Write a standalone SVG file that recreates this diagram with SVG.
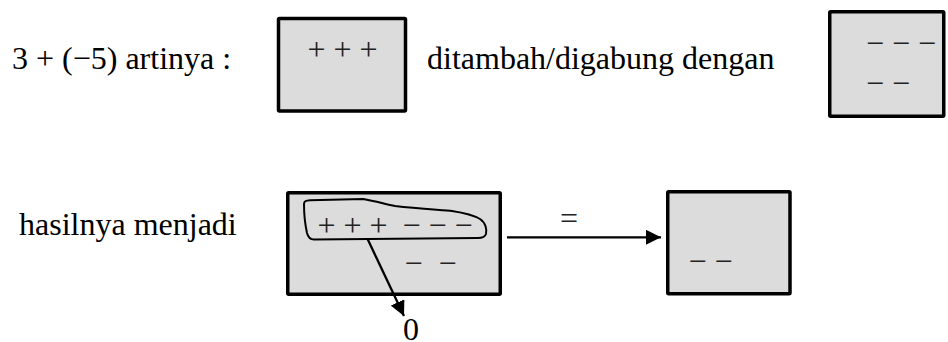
<svg xmlns="http://www.w3.org/2000/svg" width="948" height="342" viewBox="0 0 948 342">
  <style>
    .t { font-family: "Liberation Serif", "Times New Roman", serif; font-size: 32px; fill: #000; }
    .s { font-family: "Liberation Serif", "Times New Roman", serif; font-size: 32px; fill: #222; }
    .box { fill: #dcdcdc; stroke: #000; stroke-width: 3.5; stroke-linejoin: round; }
    .ln { stroke: #000; stroke-width: 2.3; fill: none; }
  </style>
  <defs>
    <marker id="ah" viewBox="0 0 10 10" refX="10" refY="5" markerWidth="15" markerHeight="15" markerUnits="userSpaceOnUse" orient="auto">
      <path d="M0,0 L10,5 L0,10 Z" fill="#000"/>
    </marker>
  </defs>

  <g id="label-top">
    <text class="t" x="12" y="69">3 + (−5) artinya :</text>
  </g>
  <g id="box-plus">
    <rect class="box" x="278.5" y="18.5" width="127" height="92.5" rx="1"/>
    <text class="s" x="307.5" y="60">+ + +</text>
  </g>
  <g id="label-mid">
    <text class="t" x="427" y="69">ditambah/digabung dengan</text>
  </g>
  <g id="box-minus">
    <rect class="box" x="829.75" y="11.75" width="114" height="104.5" rx="1"/>
    <text class="s" x="866" y="54">− − −</text>
    <text class="s" x="866" y="94">− −</text>
  </g>
  <g id="label-result">
    <text class="t" x="19" y="235">hasilnya menjadi</text>
  </g>
  <g id="box-combined">
    <rect class="box" x="287.75" y="192.75" width="212.5" height="101.5" rx="1"/>
    <path d="M304,204 C304,201 306,200.5 310,200.3 L363,199 C375,201 385,204 395,206 C420,209 445,210 452,211 C465,213 475,216 480,219 C486,223 487,230 486,234 C485,237 482,238 478,238 L314,239.5 C310,239.5 308,237 307,233 C305,224 304,213 304,204 Z" fill="none" stroke="#000" stroke-width="2"/>
    <text class="s" x="317.5" y="236">+ + +</text>
    <text class="s" x="402.5" y="236">− − −</text>
    <text class="s" x="404.5" y="274">−</text>
    <text class="s" x="438.5" y="274">−</text>
  </g>
  <g id="box-final">
    <rect class="box" x="667.75" y="191.75" width="122.25" height="102" rx="1"/>
    <text class="s" x="688.5" y="272">− −</text>
  </g>
  <g id="zero">
    <text class="t" x="403" y="340">0</text>
  </g>
  <g id="connectors">
    <line class="ln" x1="367.7" y1="239.3" x2="404" y2="316" marker-end="url(#ah)"/>
    <line class="ln" x1="507" y1="237.3" x2="661" y2="237.3" marker-end="url(#ah)"/>
    <text class="s" x="560" y="229">=</text>
  </g>
</svg>
